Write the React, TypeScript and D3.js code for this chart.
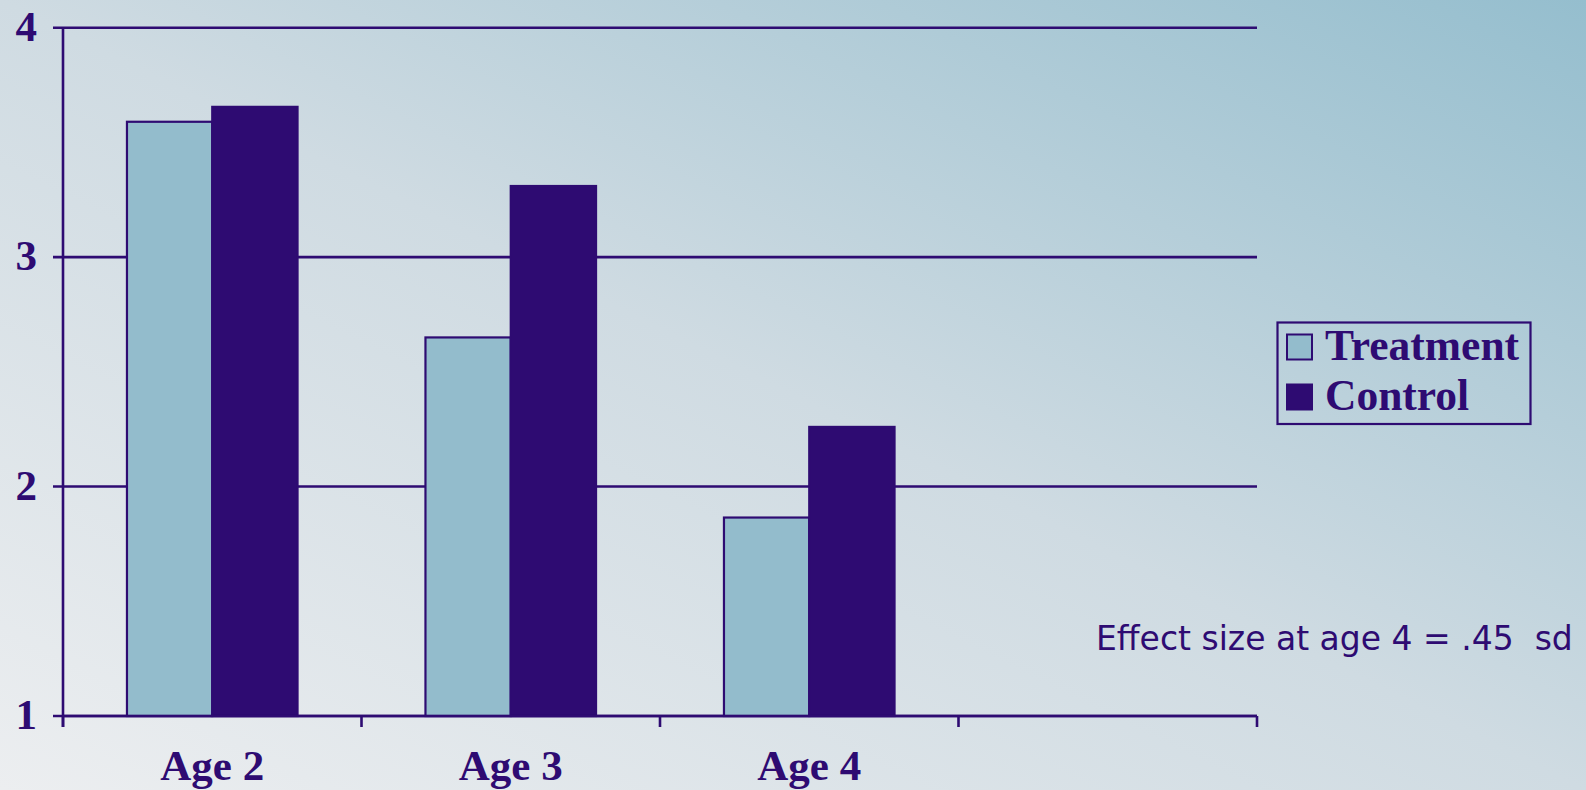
import React from "react";
import * as d3 from "d3";

const categories = ["Age 2", "Age 3", "Age 4", ""];
const seriesNames = ["Treatment", "Control"];
const treatment = [3.59, 2.65, 1.865];
const control = [3.655, 3.31, 2.26];
const yTicks = [1, 2, 3, 4];
const note = "Effect size at age 4 = .45  sd";

const W = 1586;
const H = 790;
const INK = "#2e0b72";
const LIGHT = "#93bccc";
const SERIF = "'Liberation Serif', 'Times New Roman', serif";

export default function App() {
  const x = d3.scaleBand<string>().domain(categories).range([63, 1257]).paddingInner(0).paddingOuter(0);
  const bw = x.bandwidth();
  const sub = d3.scaleBand<string>().domain(seriesNames).range([0, bw]).paddingInner(0).paddingOuter(0.75);
  const y = d3.scaleLinear().domain([1, 4]).range([716, 27.7]);
  const values: Record<string, number[]> = { Treatment: treatment, Control: control };
  const fills: Record<string, string> = { Treatment: LIGHT, Control: INK };
  const x0 = x.range()[0];
  const x1 = x.range()[1];
  const boundaries = categories.map((c) => x(c) as number).concat([x1]);
  const SW = 2.6;

  return (
    <svg width={W} height={H} style={{ position: "absolute", left: 0, top: 0 }}>
      <defs>
        <linearGradient id="bg" x1="0" y1="1" x2="1" y2="0">
          <stop offset="0" stopColor="#eceef0" />
          <stop offset="0.5" stopColor="#cfdbe2" />
          <stop offset="1" stopColor="#95bece" />
        </linearGradient>
      </defs>
      <rect x={0} y={0} width={W} height={H} fill="url(#bg)" />

      {/* gridlines and y ticks */}
      {yTicks.map((t) => (
        <line key={"g" + t} x1={x0 - 10} x2={x1} y1={y(t)} y2={y(t)} stroke={INK} strokeWidth={SW} />
      ))}
      {yTicks.map((t) => (
        <text key={"yl" + t} x={37} y={y(t) + 13} textAnchor="end" fontFamily={SERIF} fontWeight="bold" fontSize={43} fill={INK}>
          {t}
        </text>
      ))}

      {/* bars */}
      {categories.slice(0, 3).map((c, i) =>
        seriesNames.map((s) => {
          const v = values[s][i];
          const bx = (x(c) as number) + (sub(s) as number);
          return (
            <rect
              key={c + s}
              x={bx}
              y={y(v)}
              width={sub.bandwidth()}
              height={y(1) - y(v)}
              fill={fills[s]}
              stroke={INK}
              strokeWidth={2.2}
            />
          );
        })
      )}

      {/* axes */}
      <line x1={x0} x2={x0} y1={y(4)} y2={y(1) + 11} stroke={INK} strokeWidth={SW} />
      <line x1={x0} x2={x1} y1={y(1)} y2={y(1)} stroke={INK} strokeWidth={SW} />
      {boundaries.map((b, i) => (
        <line key={"xt" + i} x1={b} x2={b} y1={y(1)} y2={y(1) + 11} stroke={INK} strokeWidth={SW} />
      ))}
      {categories.map((c) =>
        c ? (
          <text key={"xl" + c} x={(x(c) as number) + bw / 2} y={780} textAnchor="middle" fontFamily={SERIF} fontWeight="bold" fontSize={43} fill={INK}>
            {c}
          </text>
        ) : null
      )}

      {/* legend */}
      <rect x={1277.5} y={322.5} width={253} height={101.5} fill="none" stroke={INK} strokeWidth={2.2} />
      {seriesNames.map((s, i) => (
        <g key={"lg" + s}>
          <rect x={1287} y={334.5 + i * 50} width={25} height={25} fill={fills[s]} stroke={INK} strokeWidth={2} />
          <text x={1325} y={360 + i * 50} fontFamily={SERIF} fontWeight="bold" fontSize={43.5} fill={INK}>
            {s}
          </text>
        </g>
      ))}

      <text x={1096} y={650} fontFamily="'DejaVu Sans', sans-serif" fontSize={33} fill={INK} style={{ whiteSpace: "pre" }} xmlSpace="preserve">
        {note}
      </text>
    </svg>
  );
}
